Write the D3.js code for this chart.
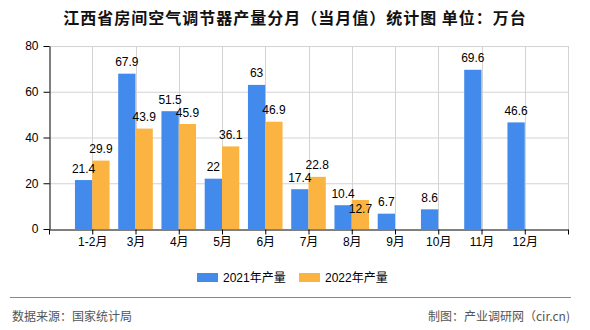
<!DOCTYPE html>
<html><head><meta charset="utf-8">
<script src="https://cdn.jsdelivr.net/npm/d3@7"></script>
<style>body{margin:0;background:#fff}svg{display:block}</style>
</head><body>
<script>
const categories = ["1-2月","3月","4月","5月","6月","7月","8月","9月","10月","11月","12月"];
const series2021 = [21.4,67.9,51.5,22,63,17.4,10.4,6.7,8.6,69.6,46.6];
const series2022 = [29.9,43.9,45.9,36.1,46.9,22.8,12.7,null,null,null,null];
const seriesNames = ["2021年产量","2022年产量"];
const seriesColors = ["#428bec","#fbb341"];
const yTicks = [0,20,40,60,80];
const titleText = "江西省房间空气调节器产量分月（当月值）统计图 单位：万台";
const sourceText = "数据来源：国家统计局";
const creditText = "制图：产业调研网（cir.cn)";

const W = 590, H = 330;
const FONT = "'Liberation Sans','Noto Sans CJK SC',sans-serif";
const svg = d3.select("body").append("svg").attr("width", W).attr("height", H)
  .style("font-family", FONT);

const x = d3.scalePoint().domain(categories).range([49, 568]).padding(1);
const y = d3.scaleLinear().domain([0, 80]).range([229, 46]);
const step = x.step();
const bw = step * 0.4;

// title
svg.append("text").attr("x", 295).attr("y", 24).attr("text-anchor", "middle")
  .attr("font-size", 16).attr("font-weight", "bold").attr("letter-spacing", 1)
  .attr("font-family", "'Noto Sans CJK SC',sans-serif").attr("fill", "#111")
  .text(titleText);

// grid
const bounds = [x.range()[0], ...categories.map(c => x(c)), x.range()[1]];
svg.append("g").selectAll("line").data(yTicks.filter(t => t > 0)).join("line")
  .attr("x1", x.range()[0]).attr("x2", x.range()[1])
  .attr("y1", d => y(d) + 0.5).attr("y2", d => y(d) + 0.5)
  .attr("stroke", "#d3d3d3");
svg.append("g").selectAll("line").data(bounds.slice(1)).join("line")
  .attr("x1", d => Math.round(d) + 0.5).attr("x2", d => Math.round(d) + 0.5)
  .attr("y1", y(80)).attr("y2", y(0))
  .attr("stroke", "#d3d3d3");

// bars
const seriesList = [series2021, series2022];
seriesList.forEach((vals, si) => {
  svg.append("g").selectAll("rect")
    .data(categories.map((c, i) => ({c, v: vals[i]})).filter(d => d.v != null))
    .join("rect")
    .attr("x", d => x(d.c) + (si === 0 ? -bw : 0))
    .attr("width", bw)
    .attr("y", d => y(d.v))
    .attr("height", d => y(0) - y(d.v))
    .attr("fill", seriesColors[si]);
});

// axes
const ya = svg.append("g").attr("transform", "translate(49.5,0)")
  .call(d3.axisLeft(y).tickValues(yTicks).tickSize(6).tickPadding(5).tickSizeOuter(0));
ya.selectAll("text").attr("font-size", 12).attr("fill", "#000").attr("font-family", FONT);
ya.selectAll("line,path").attr("stroke", "#000");

const xa = svg.append("g").attr("transform", "translate(0,229.5)")
  .call(d3.axisBottom(x).tickSize(5).tickPadding(3).tickSizeOuter(0));
xa.selectAll("text").attr("font-size", 12).attr("fill", "#000").attr("font-family", FONT);
xa.selectAll("line,path").attr("stroke", "#000");
xa.append("g").selectAll("line").data([x.range()[0], x.range()[1]]).join("line")
  .attr("x1", d => d + 0.5).attr("x2", d => d + 0.5).attr("y1", 0).attr("y2", 5).attr("stroke", "#000");

// value labels with simple collision avoidance
const lab = [];
categories.forEach((c, i) => {
  const items = [];
  seriesList.forEach((vals, si) => {
    const v = vals[i];
    if (v == null) return;
    const cx = x(c) + (si === 0 ? -bw / 2 : bw / 2);
    let by = y(v) - 7.5;
    const txt = String(v);
    const w = txt.length * 6;
    items.forEach(o => {
      if (Math.abs(o.cx - cx) < (o.w + w) / 2 && Math.abs(o.by - by) < 10) by = o.by + 15;
    });
    const it = {cx, by, txt, w};
    items.push(it); lab.push(it);
  });
});
svg.append("g").selectAll("text").data(lab).join("text")
  .attr("x", d => d.cx).attr("y", d => d.by).attr("text-anchor", "middle")
  .attr("font-size", 12).attr("fill", "#000").text(d => d.txt);

// legend
const legX = [197, 299];
const lg = svg.append("g");
seriesNames.forEach((n, i) => {
  lg.append("rect").attr("x", legX[i]).attr("y", 273).attr("width", 21).attr("height", 9)
    .attr("fill", seriesColors[i]);
  lg.append("text").attr("x", legX[i] + 26).attr("y", 282).attr("font-size", 12)
    .attr("fill", "#000").text(n);
});

// footer
svg.append("line").attr("x1", 10).attr("x2", 571).attr("y1", 297.5).attr("y2", 297.5)
  .attr("stroke", "#888");
svg.append("text").attr("x", 12).attr("y", 321).attr("font-size", 12).attr("fill", "#555")
  .attr("font-family", "'Noto Sans CJK SC',sans-serif").text(sourceText);
svg.append("text").attr("x", 570).attr("y", 321).attr("text-anchor", "end").attr("font-size", 12)
  .attr("fill", "#555").attr("font-family", "'Noto Sans CJK SC',sans-serif").text(creditText);
</script>
</body></html>
